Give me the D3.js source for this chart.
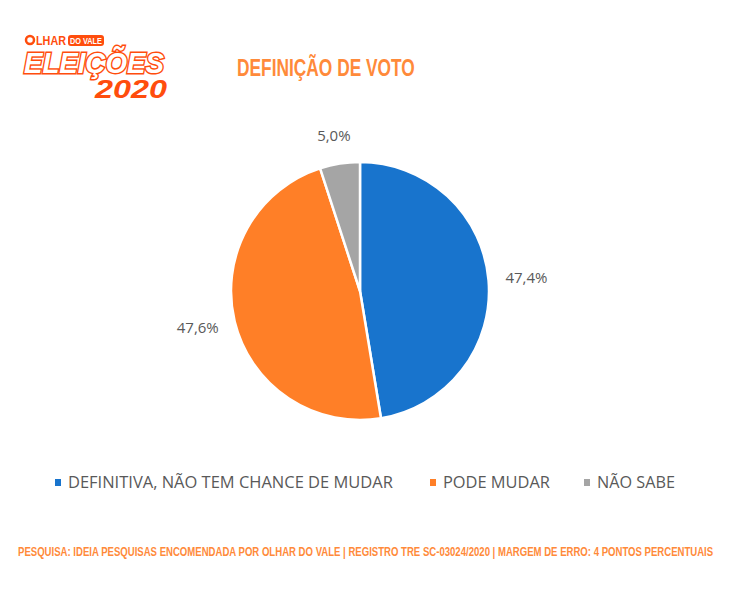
<!DOCTYPE html>
<html lang="en">
<head>
<meta charset="UTF-8" />
<script src="https://cdn.jsdelivr.net/npm/d3@7"></script>
<style>body{margin:0;background:#fff}</style>
</head>
<body>
<svg width="732" height="597"></svg>
<script>
var categories = ['DEFINITIVA, NÃO TEM CHANCE DE MUDAR', 'PODE MUDAR', 'NÃO SABE'];
var values = [47.4, 47.6, 5.0];
var colors = ['#1874cd', '#ff7f27', '#a5a5a5'];

var svg = d3.select('svg');
var bold = "'Liberation Sans', 'DejaVu Sans', sans-serif";

// squeeze a text horizontally to a given width around an anchor point
function fitText(sel, x, y, w, anchor) {
  var len = sel.node().getComputedTextLength();
  var k = w / len;
  var x0 = anchor === 'middle' ? x - w / 2 : x;
  sel.attr('x', 0).attr('y', 0).attr('transform', 'translate(' + x0 + ',' + y + ') scale(' + k + ',1)');
}

// logo
var logo = svg.append('g');
logo.append('circle').attr('cx', 30).attr('cy', 40).attr('r', 4).attr('fill', 'none').attr('stroke', '#ff4d0d').attr('stroke-width', 2.5);
var t1 = logo.append('text').text('LHAR').attr('font-family', bold).attr('font-weight', 'bold').attr('font-size', 12).attr('fill', '#ff4d0d');
fitText(t1, 36, 45, 30);
logo.append('rect').attr('x', 68).attr('y', 35).attr('width', 36).attr('height', 11).attr('rx', 3).attr('fill', '#ff4d0d');
var t2 = logo.append('text').text('DO VALE').attr('font-family', bold).attr('font-weight', 'bold').attr('font-size', 9).attr('fill', '#fff');
fitText(t2, 70, 44, 32);
var t3 = logo.append('text').text('ELEIÇÕES').attr('font-family', bold).attr('font-weight', 'bold').attr('font-style', 'italic').attr('font-size', 30)
  .attr('fill', '#fff').attr('stroke', '#ff4d0d').attr('stroke-width', 3).attr('paint-order', 'stroke');
fitText(t3, 24, 73, 140);
var t4 = logo.append('text').text('2020').attr('font-family', bold).attr('font-weight', 'bold').attr('font-style', 'italic').attr('font-size', 26).attr('fill', '#ff4d0d');
fitText(t4, 95, 98, 72);

var title = svg.append('text').text('DEFINIÇÃO DE VOTO')
  .attr('font-family', bold).attr('font-weight', 'bold').attr('font-size', 24).attr('fill', '#ff8a3a');
fitText(title, 326, 76, 178, 'middle');

var cx = 360, cy = 291, r = 129;
var pie = d3.pie().sort(null).value(function (d) { return d; });
var arc = d3.arc().innerRadius(0).outerRadius(r);
var arcs = pie(values);
var g = svg.append('g').attr('transform', 'translate(' + cx + ',' + cy + ')');
g.selectAll('path').data(arcs).enter().append('path')
  .attr('d', arc).attr('fill', function (d, i) { return colors[i]; })
  .attr('stroke', '#fff').attr('stroke-width', 2.5);

var labelArc = d3.arc().innerRadius(r + 28).outerRadius(r + 28);
g.selectAll('text').data(arcs).enter().append('text')
  .attr('transform', function (d) {
    var c = labelArc.centroid(d);
    var ang = (d.startAngle + d.endAngle) / 2;
    return 'translate(' + (c[0] + 10 * Math.sin(ang)) + ',' + c[1] + ')';
  })
  .attr('text-anchor', 'middle').attr('dy', '0.35em')
  .attr('font-family', "'Open Sans', sans-serif").attr('font-size', 15).attr('fill', '#595959')
  .text(function (d) { return d.data.toFixed(1).replace('.', ',') + '%'; });

// legend
var lx = [55, 430, 584];
var lw = [325, 107, 78];
var leg = svg.append('g').selectAll('g').data(categories).enter().append('g')
  .attr('transform', function (d, i) { return 'translate(' + lx[i] + ',479)'; });
leg.append('rect').attr('x', 0).attr('y', 0).attr('width', 6).attr('height', 7).attr('fill', function (d, i) { return colors[i]; });
leg.append('text').text(function (d) { return d; })
  .attr('font-family', "'Open Sans', sans-serif").attr('font-size', 16).attr('fill', '#595959')
  .each(function (d, i) { fitText(d3.select(this), 13, 9, lw[i]); });

var foot = svg.append('text')
  .text('PESQUISA: IDEIA PESQUISAS ENCOMENDADA POR OLHAR DO VALE | REGISTRO TRE SC-03024/2020 | MARGEM DE ERRO: 4 PONTOS PERCENTUAIS')
  .attr('font-family', bold).attr('font-weight', 'bold').attr('font-size', 13).attr('fill', '#ff8a3a');
fitText(foot, 366, 556, 696, 'middle');
</script>
</body>
</html>
